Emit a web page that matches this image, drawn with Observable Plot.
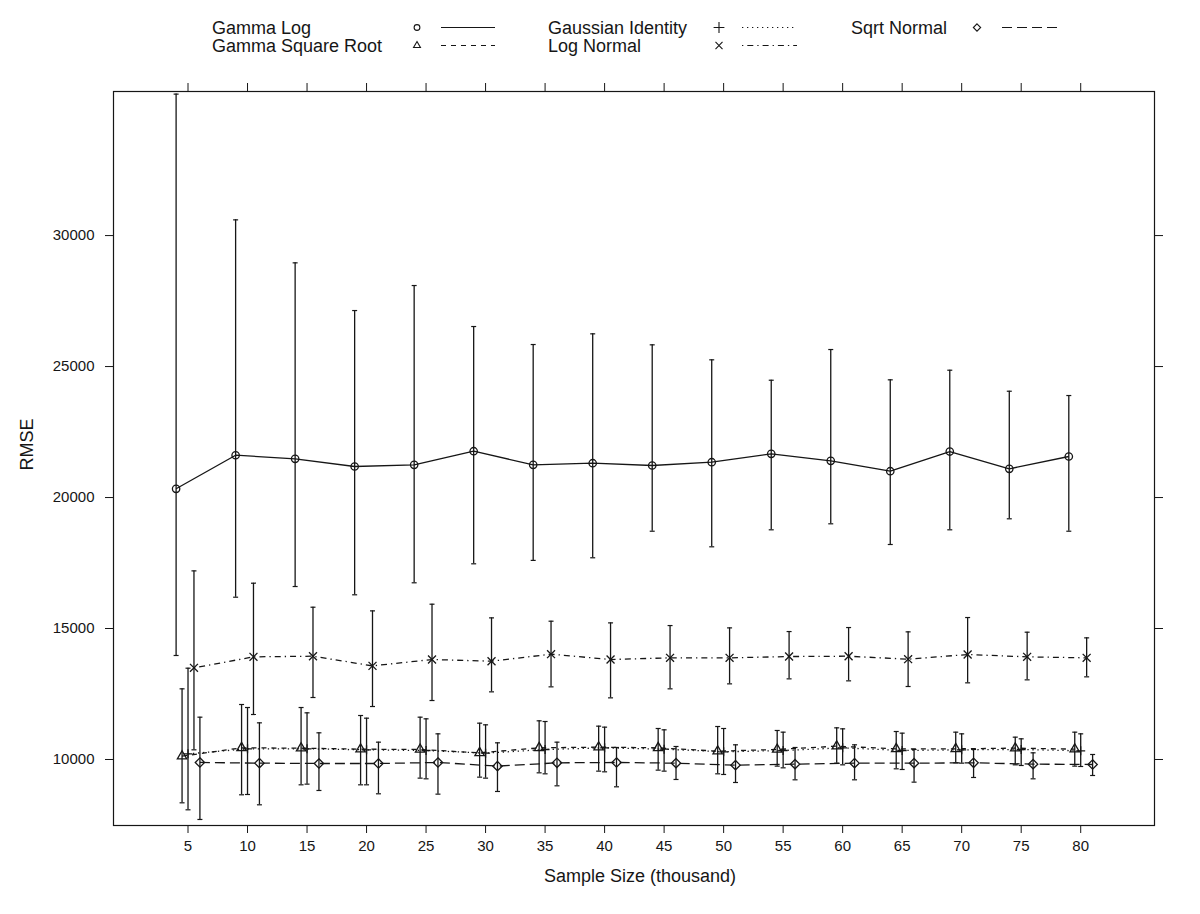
<!DOCTYPE html>
<html>
<head>
<meta charset="utf-8">
<script src="https://cdn.jsdelivr.net/npm/d3@7"></script>
<script src="https://cdn.jsdelivr.net/npm/@observablehq/plot@0.6"></script>
<style>
  body { margin: 0; background: #fff; font-family: "Liberation Sans", Arial, sans-serif; }
  #legend svg, #chart svg { display: block; }
</style>
</head>
<body>
<div id="legend"></div>
<div id="chart"></div>
<script>
// ---------- data ----------
const sampleSizes = [5, 10, 15, 20, 25, 30, 35, 40, 45, 50, 55, 60, 65, 70, 75, 80];
const seriesNames = ["Gamma Log", "Gamma Square Root", "Gaussian Identity", "Log Normal", "Sqrt Normal"];
const seriesDodge = [-1, -0.5, 0, 0.5, 1]; // horizontal offset of each series (thousand)
const yTicks = [10000, 15000, 20000, 25000, 30000];

const gammaLogMean  = [20333, 21615, 21478, 21184, 21248, 21768, 21248, 21310, 21222, 21348, 21669, 21401, 21005, 21756, 21096, 21566];
const gammaLogHigh  = [35400, 30600, 28959, 27138, 28093, 26528, 25841, 26249, 25829, 25257, 24478, 25650, 24493, 24860, 24058, 23894];
const gammaLogLow   = [13970, 16195, 16603, 16287, 16745, 17470, 17600, 17700, 18714, 18119, 18768, 18997, 18207, 18768, 19188, 18714];

const gammaSqrtMean = [10127, 10445, 10432, 10394, 10382, 10254, 10445, 10471, 10445, 10318, 10382, 10509, 10407, 10407, 10432, 10394];
const gammaSqrtHigh = [12697, 12099, 11984, 11679, 11615, 11386, 11476, 11272, 11183, 11259, 11107, 11208, 11068, 11043, 10852, 11043];
const gammaSqrtLow  = [8346, 8652, 9033, 9033, 9288, 9326, 9491, 9555, 9593, 9453, 9746, 9860, 9644, 9873, 9796, 9746];

const gaussIdMean   = [10216, 10407, 10407, 10369, 10343, 10242, 10382, 10445, 10394, 10293, 10343, 10445, 10343, 10369, 10382, 10331];
const gaussIdHigh   = [13485, 11984, 11781, 11577, 11552, 11323, 11450, 11234, 11132, 11183, 11043, 11170, 11005, 10979, 10789, 10979];
const gaussIdLow    = [8079, 8664, 9059, 9033, 9262, 9288, 9453, 9529, 9555, 9428, 9682, 9796, 9618, 9860, 9771, 9733];

const logNormMean   = [13498, 13918, 13943, 13574, 13816, 13752, 14020, 13816, 13880, 13880, 13930, 13943, 13829, 14007, 13918, 13880];
const logNormHigh   = [17200, 16729, 15813, 15673, 15928, 15406, 15279, 15215, 15113, 15024, 14884, 15037, 14872, 15419, 14859, 14643];
const logNormLow    = [10369, 11717, 12366, 12022, 12251, 12582, 12773, 12353, 12697, 12887, 13078, 13002, 12786, 12926, 13040, 13155];

const sqrtNormMean  = [9886, 9860, 9847, 9847, 9886, 9746, 9873, 9886, 9860, 9784, 9822, 9860, 9860, 9873, 9822, 9809];
const sqrtNormHigh  = [11615, 11399, 11018, 10661, 10979, 10636, 10661, 10458, 10496, 10560, 10458, 10560, 10382, 10382, 10254, 10191];
const sqrtNormLow   = [7710, 8270, 8817, 8690, 8677, 8779, 8995, 8957, 9237, 9122, 9224, 9224, 9135, 9313, 9262, 9389];

const means = [gammaLogMean, gammaSqrtMean, gaussIdMean, logNormMean, sqrtNormMean];
const highs = [gammaLogHigh, gammaSqrtHigh, gaussIdHigh, logNormHigh, sqrtNormHigh];
const lows  = [gammaLogLow, gammaSqrtLow, gaussIdLow, logNormLow, sqrtNormLow];

// ---------- styles ----------
const ink = "#161616";
const styleOf = {
  "Gamma Log":         {symbol: "circle",    d3sym: d3.symbolCircle,    r: 3.7, dash: null},
  "Gamma Square Root": {symbol: "triangle2", d3sym: d3.symbolTriangle2, r: 4.5, dash: "5,5"},
  "Gaussian Identity": {symbol: "plus",      d3sym: d3.symbolPlus,      r: 3.0, dash: "1.3,3.7"},
  "Log Normal":        {symbol: "times",     d3sym: d3.symbolTimes,     r: 3.7, dash: "1.3,4,6,4"},
  "Sqrt Normal":       {symbol: "diamond2",  d3sym: d3.symbolDiamond2,  r: 4.2, dash: "10,5"}
};
const fontFamily = "'Liberation Sans', Arial, Helvetica, sans-serif";

// ---------- tidy table ----------
const rows = [];
seriesNames.forEach((name, s) => {
  sampleSizes.forEach((n, i) => {
    rows.push({series: name, x: n + seriesDodge[s], mean: means[s][i], lo: lows[s][i], hi: highs[s][i]});
  });
});

// ---------- legend (above the plot) ----------
const legendH = 62;
const legend = d3.select("#legend").append("svg")
  .attr("width", 1200).attr("height", legendH)
  .style("font-family", fontFamily);
const colText = [212, 548, 851], colSym = [417, 719, 977], colLine = [[441, 495], [742, 797], [1002, 1057]];
const rowY = [27.5, 45.5];
seriesNames.forEach((name, i) => {
  const c = Math.floor(i / 2), r = i % 2, st = styleOf[name];
  const g = legend.append("g");
  g.append("text").attr("x", colText[c]).attr("y", rowY[r] + 6.5)
    .attr("font-size", 18).attr("fill", ink).text(name);
  const size = name === "Gamma Log" ? 26 : name === "Gaussian Identity" ? 40 : 34;
  g.append("path").attr("transform", `translate(${colSym[c]},${rowY[r]})`)
    .attr("d", d3.symbol(st.d3sym, size)()).attr("fill", "none").attr("stroke", ink).attr("stroke-width", 1.1);
  g.append("line").attr("x1", colLine[c][0]).attr("x2", colLine[c][1]).attr("y1", rowY[r]).attr("y2", rowY[r])
    .attr("stroke", ink).attr("stroke-width", 1.1).attr("stroke-dasharray", st.dash);
});

// ---------- plot ----------
const cap = {draw(ctx) { ctx.moveTo(-2.5, 0); ctx.lineTo(2.5, 0); }};
const seriesMarks = seriesNames.flatMap(name => {
  const d = rows.filter(r => r.series === name);
  const st = styleOf[name];
  return [
    Plot.line(d, {x: "x", y: "mean", stroke: ink, strokeWidth: 1.3, strokeDasharray: st.dash ?? undefined, strokeLinecap: "butt"}),
    Plot.ruleX(d, {x: "x", y1: "lo", y2: "hi", stroke: ink, strokeWidth: 1.3}),
    Plot.dot(d, {x: "x", y: "hi", symbol: cap, stroke: ink, strokeWidth: 1.2}),
    Plot.dot(d, {x: "x", y: "lo", symbol: cap, stroke: ink, strokeWidth: 1.2}),
    Plot.dot(d, {x: "x", y: "mean", symbol: st.symbol, r: st.r, stroke: ink, fill: "none", strokeWidth: 1.3})
  ];
});

const chart = Plot.plot({
  width: 1200,
  height: 914 - legendH,
  marginLeft: 113,
  marginRight: 46,
  marginTop: 29,
  marginBottom: 89,
  style: {fontFamily, fontSize: "15px", color: ink, background: "#fff"},
  x: {domain: [-1.26, 86.2]},
  y: {domain: [7480, 35500]},
  marks: [
    Plot.frame({stroke: ink, strokeWidth: 1.2}),
    Plot.axisX({anchor: "bottom", ticks: sampleSizes, tickSize: 8, tickPadding: 7, fontSize: 15, label: null, tickFormat: d3.format("d")}),
    Plot.axisX({anchor: "top", ticks: sampleSizes, tickSize: 9, label: null, tickFormat: () => ""}),
    Plot.axisY({anchor: "left", ticks: yTicks, tickSize: 8, tickPadding: 11, fontSize: 15, label: null, tickFormat: d3.format("d")}),
    Plot.axisY({anchor: "right", ticks: yTicks, tickSize: 8, label: null, tickFormat: () => ""}),
    ...seriesMarks,
    Plot.text(["Sample Size (thousand)"], {text: d => d, frameAnchor: "bottom", dx: 6, dy: 51, fontSize: 18, lineAnchor: "middle", fill: ink}),
    Plot.text(["RMSE"], {text: d => d, frameAnchor: "left", dx: -86, dy: 12, rotate: -90, fontSize: 18, lineAnchor: "middle", fill: ink})
  ]
});
document.getElementById("chart").appendChild(chart);
</script>
</body>
</html>
